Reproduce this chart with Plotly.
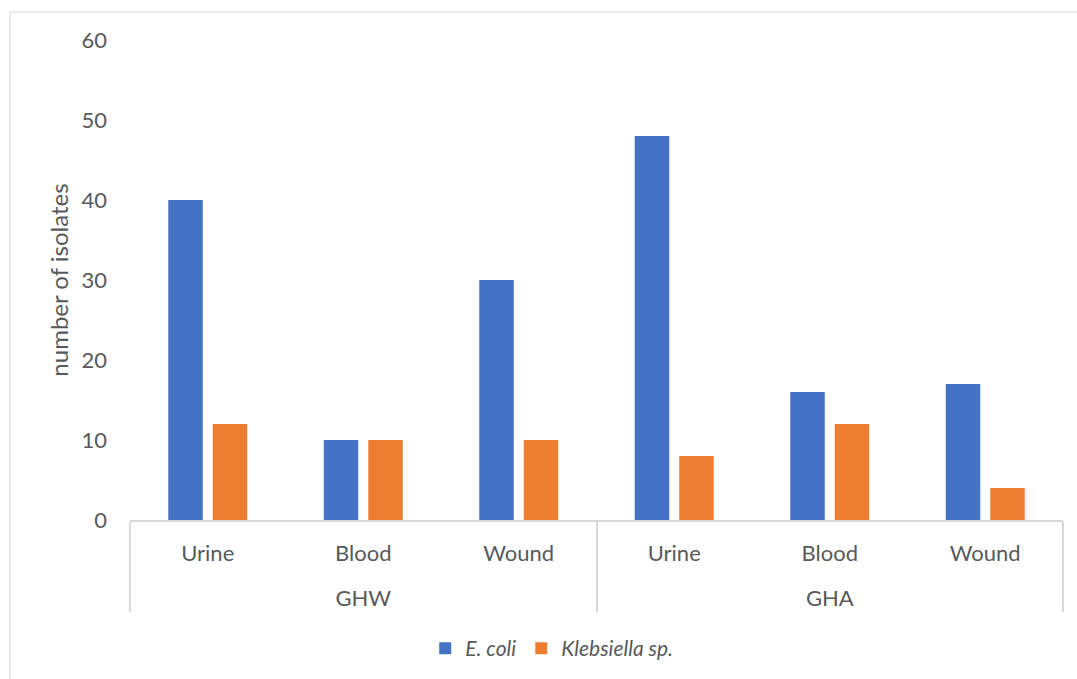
import plotly.graph_objects as go

# Hospital groups and specimen types
hospitals = ["GHW", "GHW", "GHW", "GHA", "GHA", "GHA"]
specimens = ["Urine", "Blood", "Wound", "Urine", "Blood", "Wound"]

# Number of isolates per organism
ecoli = [40, 10, 30, 48, 16, 17]
klebsiella = [12, 10, 10, 8, 12, 4]

y_ticks = [0, 10, 20, 30, 40, 50, 60]

W, H = 1077, 679
L, R, T, B = 130, 14, 40, 159

# Trailing blank line gives the specimen row extra height so the hospital row sits lower
specimen_labels = [s + "<br> " for s in specimens]

fig = go.Figure()
fig.add_trace(go.Bar(
    x=[hospitals, specimen_labels], y=ecoli, name="<i>E. coli</i>",
    marker=dict(color="#4472C4", line=dict(width=0)),
))
fig.add_trace(go.Bar(
    x=[hospitals, specimen_labels], y=klebsiella, name="<i>Klebsiella sp.</i>",
    marker=dict(color="#ED7D31", line=dict(width=0)),
))

font_family = "Lato, 'Open Sans', sans-serif"
text_color = "#595959"
fs = 22

fig.update_layout(
    width=W, height=H,
    margin=dict(l=L, r=R, t=T, b=B, autoexpand=False),
    paper_bgcolor="white", plot_bgcolor="white",
    barmode="group", bargap=0.428, bargroupgap=0.225,
    font=dict(family=font_family, size=fs, color=text_color),
    showlegend=True,
    legend=dict(
        orientation="h", x=0.452, xanchor="center", y=-0.268, yanchor="middle",
        font=dict(size=fs - 1, color=text_color), itemwidth=30,
        traceorder="normal",
    ),
    xaxis=dict(
        type="multicategory", showline=True, linecolor="#D9D9D9", linewidth=1.5,
        showgrid=False, ticks="", showdividers=True, dividercolor="#D9D9D9",
        dividerwidth=1.5, tickfont=dict(size=fs, color=text_color),
        ticklabelstandoff=13, automargin=False,
    ),
    yaxis=dict(
        range=[0, 60], tickvals=y_ticks, showgrid=False, zeroline=False,
        showline=False, ticks="", tickfont=dict(size=fs, color=text_color),
        ticklabelstandoff=22, automargin=False,
        title=dict(text="number of isolates", font=dict(size=24, color=text_color),
                   standoff=6),
    ),
)

# Light outer chart frame
fig.add_shape(
    type="rect", xref="paper", yref="paper",
    x0=(10 - L) / (W - L - R), x1=(W + 5 - L) / (W - L - R),
    y0=-(B + 5) / (H - T - B), y1=(H - B - 12) / (H - T - B),
    line=dict(color="#D9D9D9", width=1.2), layer="below",
)

fig.write_html("out.html")
